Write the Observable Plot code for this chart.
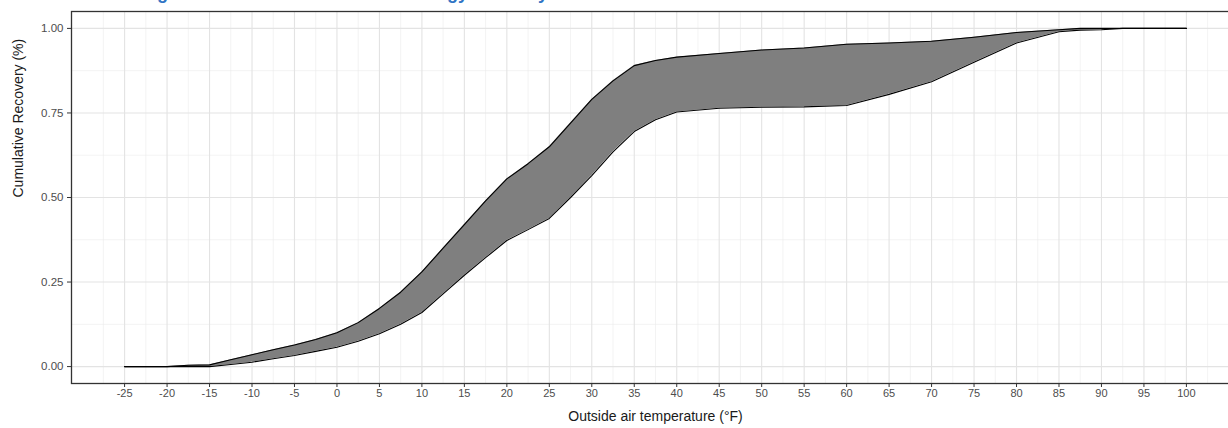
<!DOCTYPE html>
<html>
<head>
<meta charset="utf-8">
<script src="https://cdn.jsdelivr.net/npm/d3@7"></script>
<script src="https://cdn.jsdelivr.net/npm/@observablehq/plot@0.6"></script>
<style>
  html, body { margin: 0; padding: 0; background: #fff; overflow: hidden; }
  #wrap { position: relative; width: 1228px; height: 428px; overflow: hidden; }
  #title { position: absolute; top: -17px; left: 2px; font: bold 18px "Liberation Sans", Arial, sans-serif; color: #2f74c4; white-space: nowrap; }
  #chart { position: absolute; top: 0; left: 0; width: 1240px; }
  #chart svg { max-width: none !important; }
</style>
</head>
<body>
<div id="wrap">
  <div id="chart"></div>
  <div id="title">Cumulative heating season distribution of total energy recovery</div>
</div>
<script>
const temps = [-25,-20,-17.5,-15,-12.5,-10,-7.5,-5,-2.5,0,2.5,5,7.5,10,12.5,15,17.5,20,22.5,25,27.5,30,32.5,35,37.5,40,45,50,55,60,65,70,75,80,85,87.5,90,92.5,95,100];
const upper = [0,0,0.004,0.005,0.02,0.035,0.05,0.064,0.08,0.10,0.13,0.172,0.22,0.28,0.35,0.42,0.49,0.555,0.60,0.65,0.72,0.79,0.845,0.89,0.905,0.915,0.926,0.936,0.942,0.953,0.957,0.962,0.974,0.988,0.996,1.0,1.0,1.0,1.0,1.0];
const lower = [0,0,0,0,0.006,0.013,0.023,0.033,0.045,0.057,0.075,0.097,0.125,0.16,0.215,0.27,0.322,0.373,0.405,0.438,0.50,0.565,0.635,0.695,0.73,0.753,0.764,0.767,0.768,0.772,0.805,0.842,0.90,0.957,0.99,0.995,0.996,1.0,1.0,1.0];
const xTicks = d3.range(-25, 101, 5);
const xMinor = d3.range(-27.5, 106, 5);
const yTicks = [0, 0.25, 0.5, 0.75, 1];
const yMinor = [0.125, 0.375, 0.625, 0.875];
const xLabel = "Outside air temperature (°F)";
const yLabel = "Cumulative Recovery (%)";

const data = temps.map((t, i) => ({t, lo: lower[i], hi: upper[i]}));
const font = "Liberation Sans, Arial, sans-serif";

const plot = Plot.plot({
  width: 1240,
  height: 428,
  marginLeft: 71,
  marginRight: 1,
  marginTop: 11,
  marginBottom: 45,
  style: {fontFamily: font, background: "#fff", maxWidth: "none"},
  x: {domain: [-31.25, 106.25]},
  y: {domain: [-0.05, 1.05]},
  marks: [
    Plot.ruleX(xMinor, {stroke: "#ebebeb", strokeWidth: 0.6}),
    Plot.ruleY(yMinor, {stroke: "#ebebeb", strokeWidth: 0.6}),
    Plot.ruleX(xTicks, {stroke: "#e3e3e3", strokeWidth: 1.1}),
    Plot.ruleY(yTicks, {stroke: "#e3e3e3", strokeWidth: 1.1}),
    Plot.areaY(data, {x: "t", y1: "lo", y2: "hi", fill: "#7f7f7f", curve: "linear"}),
    Plot.line(data, {x: "t", y: "hi", stroke: "#000", strokeWidth: 1.1}),
    Plot.line(data, {x: "t", y: "lo", stroke: "#000", strokeWidth: 1.1}),
    Plot.frame({stroke: "#333", strokeWidth: 1.3}),
    Plot.axisX({ticks: xTicks, tickFormat: d => String(d), tickSize: 4, tickPadding: 2, label: null, fontSize: 11, color: "#4d4d4d", stroke: "#333"}),
    Plot.axisY({ticks: yTicks, tickFormat: d3.format(".2f"), tickSize: 4, tickPadding: 4, label: null, fontSize: 11.5, color: "#4d4d4d", stroke: "#333"}),
    Plot.text([xLabel], {text: d => d, frameAnchor: "bottom", dy: 37, fontSize: 14, fill: "#1a1a1a", fontFamily: font}),
    Plot.text([yLabel], {text: d => d, frameAnchor: "left", dx: -53, rotate: -90, fontSize: 14, fill: "#1a1a1a", fontFamily: font})
  ]
});
document.getElementById("chart").appendChild(plot);
</script>
</body>
</html>
